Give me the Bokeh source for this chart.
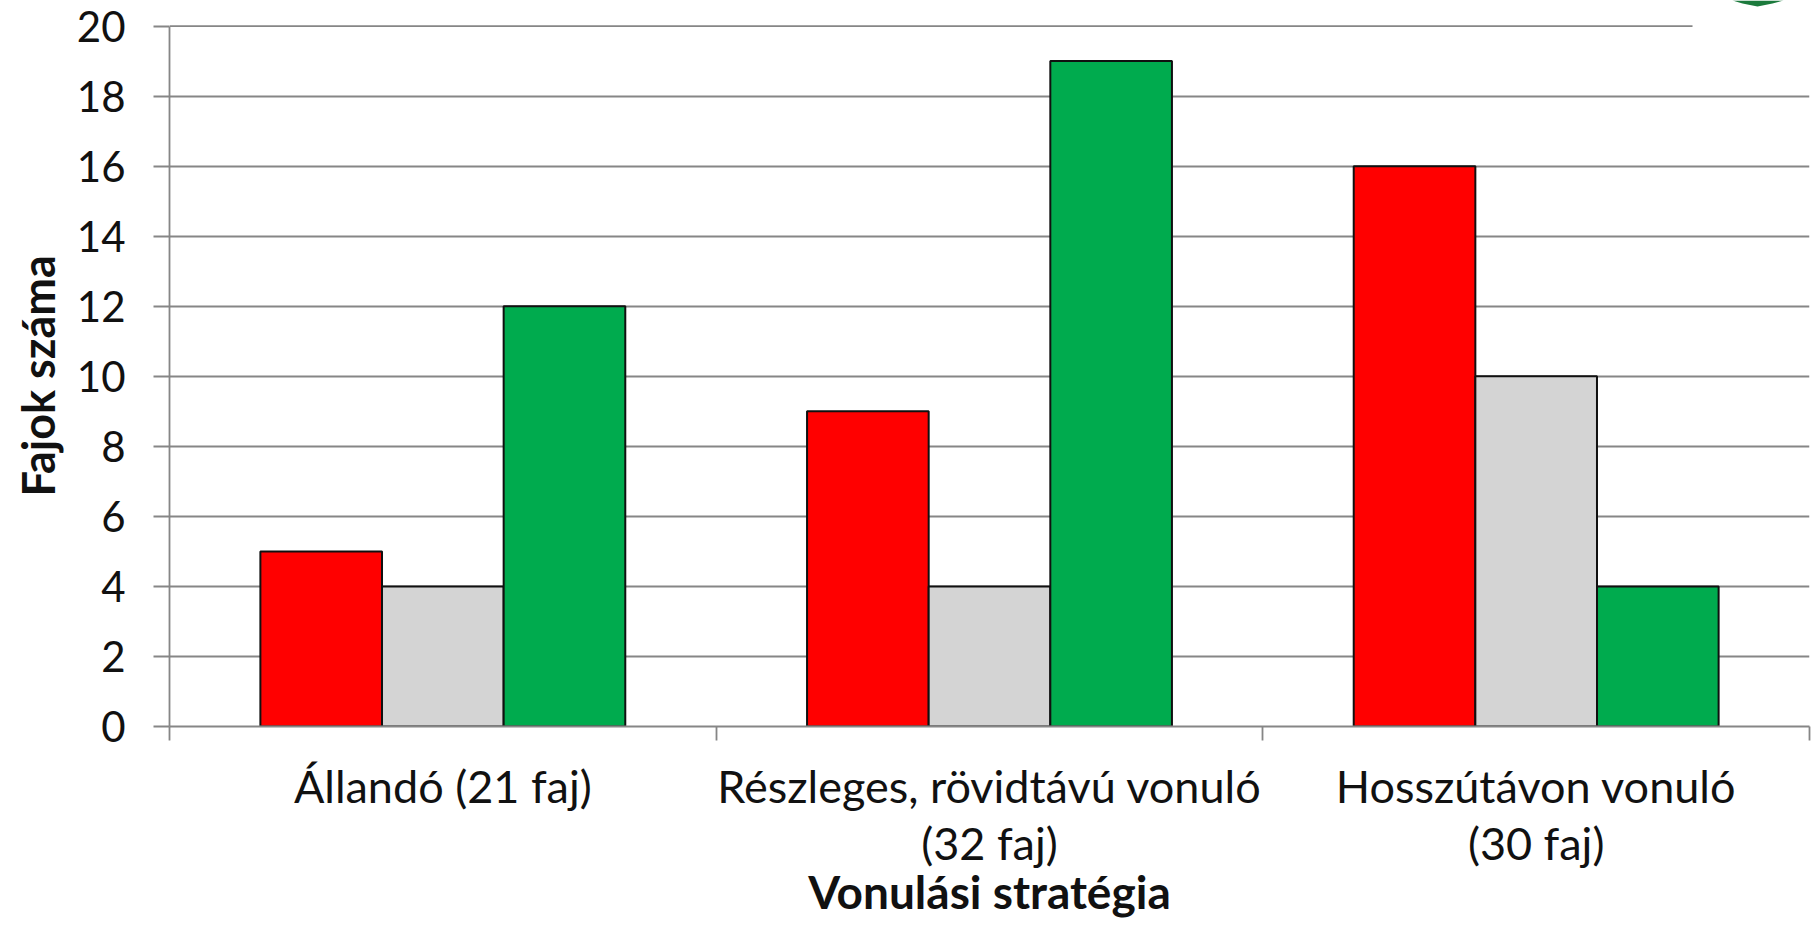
from bokeh.embed import file_html
from bokeh.resources import INLINE
from bokeh.models import FixedTicker, Range1d, ColumnDataSource, PolyAnnotation, Title
from bokeh.plotting import figure

categories = ["Állandó (21 faj)", "Részleges, rövidtávú vonuló\n(32 faj)", "Hosszútávon vonuló\n(30 faj)"]
red_values = [5, 9, 16]
grey_values = [4, 4, 10]
green_values = [12, 19, 4]
series_colors = ["#FF0000", "#D4D4D4", "#00AB4E"]
y_ticks = list(range(0, 21, 2))
y_title = "Fajok száma"
x_title = "Vonulási stratégia"

FONT = "Lato"
GRID = "#868686"
TEXT = "#111111"
BAR_W = 0.2225

p = figure(width=1816, height=943, output_backend="svg", toolbar_location=None,
           x_range=Range1d(0, 3), y_range=Range1d(0, 20.73),
           min_border_left=169, min_border_right=7, min_border_top=0, min_border_bottom=217)
p.outline_line_color = None
p.background_fill_color = "white"

# Grid: the top line stops early in the reference, so it is drawn on its own
p.xgrid.visible = False
p.ygrid.ticker = FixedTicker(ticks=[t for t in y_ticks if 0 < t < 20])
p.ygrid.grid_line_color = GRID
p.ygrid.grid_line_width = 1.8
p.segment(x0=[0], x1=[2.786], y0=[y_ticks[-1]], y1=[y_ticks[-1]], line_color=GRID, line_width=1.8)

for i, (vals, col) in enumerate(zip([red_values, grey_values, green_values], series_colors)):
    src = ColumnDataSource(dict(x=[k + 0.5 + (i - 1) * BAR_W for k in range(len(categories))], top=vals))
    p.vbar(x="x", top="top", bottom=0, width=BAR_W, source=src,
           fill_color=col, line_color="#101010", line_width=2)

yax = p.yaxis[0]
yax.ticker = FixedTicker(ticks=y_ticks)
yax.bounds = (0, 20)
yax.axis_line_color = GRID
yax.axis_line_width = 1.8
yax.major_tick_line_color = GRID
yax.major_tick_line_width = 1.8
yax.major_tick_in = 0
yax.major_tick_out = 16
yax.minor_tick_line_color = None
yax.major_label_text_font = FONT
yax.major_label_text_font_size = "42px"
yax.major_label_text_color = TEXT
yax.major_label_standoff = 28

xax = p.xaxis[0]
xax.ticker = FixedTicker(ticks=[k + 0.5 for k in range(len(categories))],
                         minor_ticks=list(range(len(categories) + 1)))
xax.major_label_overrides = {k + 0.5: c for k, c in enumerate(categories)}
xax.axis_line_color = GRID
xax.axis_line_width = 1.8
xax.major_tick_line_color = None
xax.major_tick_in = 0
xax.major_tick_out = 0
xax.minor_tick_line_color = GRID
xax.minor_tick_line_width = 1.8
xax.minor_tick_in = 0
xax.minor_tick_out = 14
xax.major_label_text_font = FONT
xax.major_label_text_font_size = "45px"
xax.major_label_text_color = TEXT
xax.major_label_text_line_height = 1.07
xax.major_label_standoff = 18

# Axis titles as side-panel titles, which can sit closer to the canvas edge than axis labels
p.add_layout(Title(text=x_title, align="center", vertical_align="middle", text_baseline="middle",
                   text_font=FONT, text_font_style="bold", text_font_size="46px", text_color=TEXT,
                   standoff=-21), "below")
p.add_layout(Title(text=y_title, align="left", offset=230, text_font=FONT, text_font_style="bold",
                   text_font_size="45px", text_color=TEXT, standoff=17), "left")

# Bottom edge of the cropped round green badge at the top-right corner
p.add_layout(PolyAnnotation(xs=[1732, 1742, 1757, 1772, 1783], ys=[0, 3, 6, 3, 0],
                            xs_units="canvas", ys_units="canvas",
                            fill_color="#1B7A3C", fill_alpha=1, line_color=None))

open("out.html", "w").write(file_html(p, INLINE))
